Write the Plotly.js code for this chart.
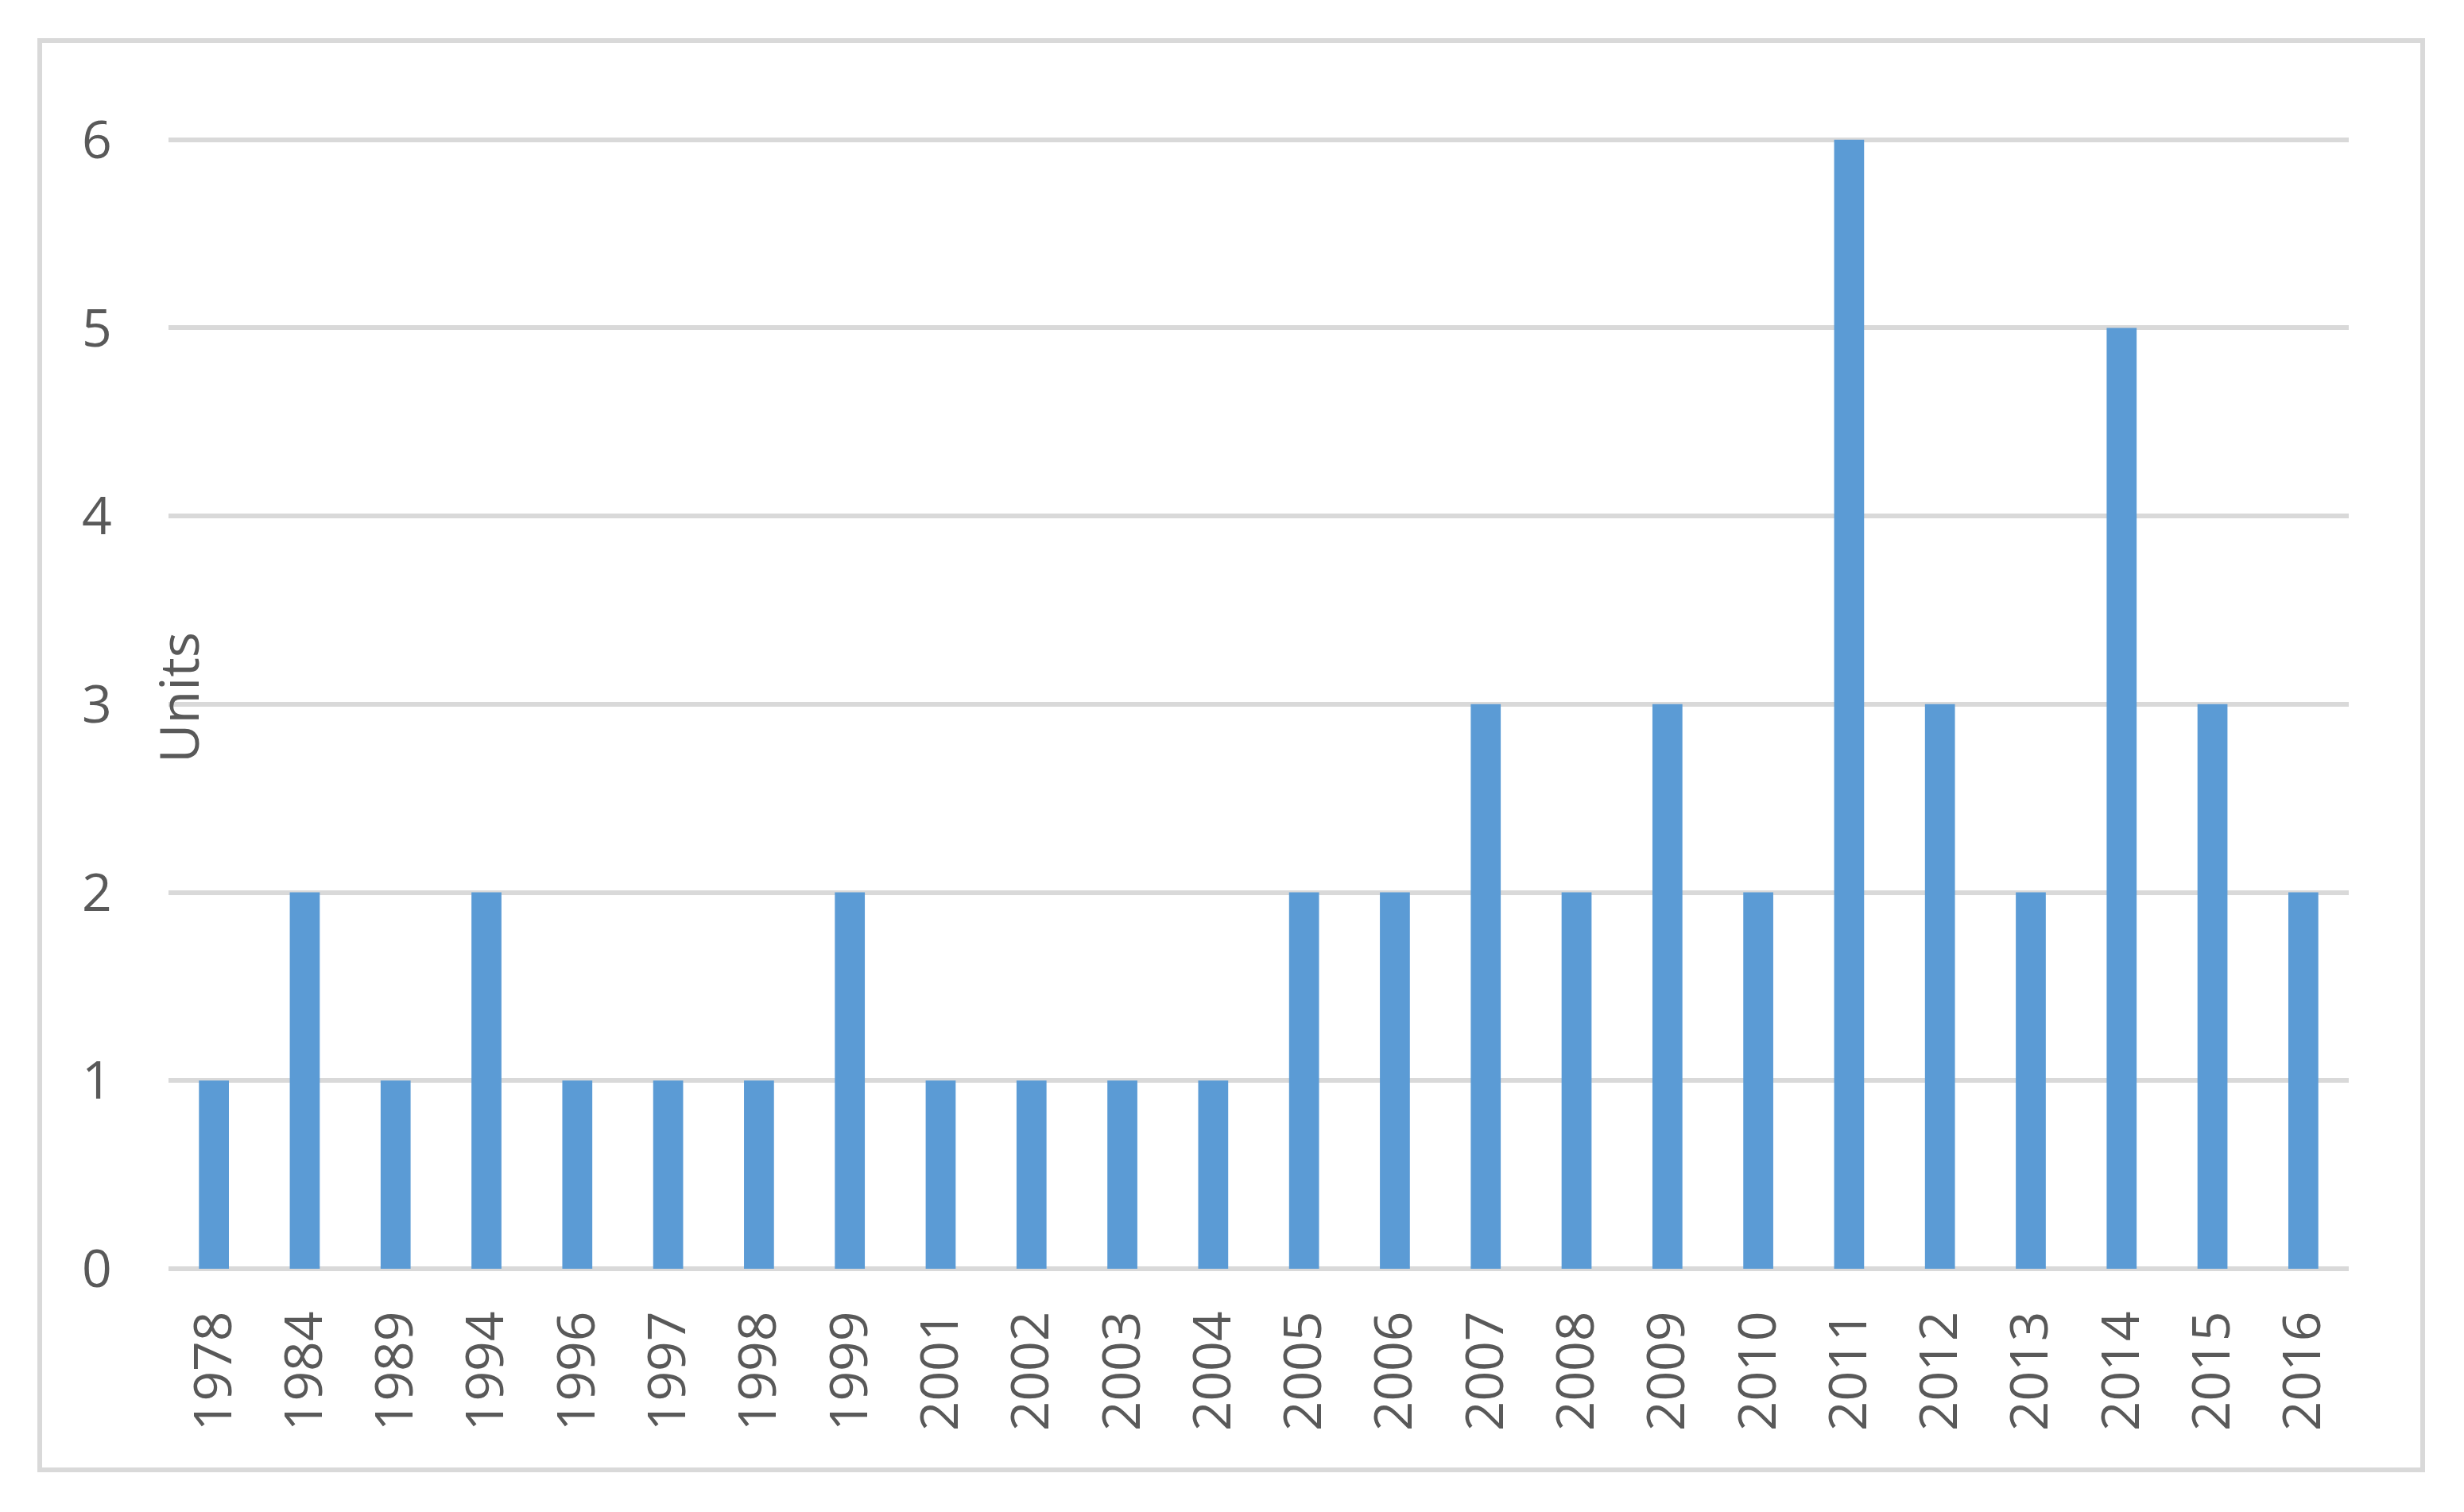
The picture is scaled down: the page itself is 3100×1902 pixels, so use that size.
<!DOCTYPE html>
<html>
<head>
<meta charset="utf-8">
<script src="https://cdn.plot.ly/plotly-3.0.1.min.js"></script>
<style>html,body{margin:0;padding:0;background:#fff;}#chart{width:3100px;height:1902px;}</style>
</head>
<body>
<div id="chart"></div>
<script>
const years = ["1978","1984","1989","1994","1996","1997","1998","1999","2001","2002","2003","2004","2005","2006","2007","2008","2009","2010","2011","2012","2013","2014","2015","2016"];
const units = [1,2,1,2,1,1,1,2,1,1,1,1,2,2,3,2,3,2,6,3,2,5,3,2];
const yTicks = [0,1,2,3,4,5,6];
const yTitle = "Units";

const grid = '#d9d9d9';
const txt = '#595959';
const fontFam = '"Open Sans", "Noto Sans", sans-serif';

const trace = {
  type: 'bar',
  x: years,
  y: units,
  marker: {color: '#5b9bd5', line: {width: 0}},
  hoverinfo: 'x+y'
};

// plot area: x 212..2955, y 171..1596
const L = 212, R = 2955, T = 171, B = 1596;
const W = R - L, H = B - T;

const layout = {
  width: 3100,
  height: 1902,
  margin: {l: L, r: 3100 - R, t: T, b: 1902 - B},
  paper_bgcolor: '#ffffff',
  plot_bgcolor: '#ffffff',
  showlegend: false,
  bargap: 0.67,
  font: {family: fontFam, color: txt, size: 66},
  xaxis: {
    type: 'category',
    tickangle: -90,
    ticks: 'outside',
    ticklen: 26,
    tickcolor: 'rgba(0,0,0,0)',
    showgrid: false,
    showline: false,
    zeroline: false,
    tickfont: {family: fontFam, size: 66, color: txt},
    fixedrange: true
  },
  yaxis: {
    range: [0, 6.02],
    tickvals: yTicks,
    ticktext: yTicks.map(String),
    ticks: 'outside',
    ticklen: 57,
    tickcolor: 'rgba(0,0,0,0)',
    showgrid: true,
    gridcolor: grid,
    gridwidth: 6,
    zeroline: true,
    zerolinecolor: grid,
    zerolinewidth: 6,
    showline: false,
    tickfont: {family: fontFam, size: 66, color: txt},
    fixedrange: true
  },
  annotations: [{
    text: yTitle,
    xref: 'paper', yref: 'paper',
    x: (223 - L) / W, y: (B - 878) / H,
    xanchor: 'center', yanchor: 'middle',
    textangle: -90,
    showarrow: false,
    font: {family: fontFam, size: 68, color: txt}
  }],
  shapes: [{
    type: 'rect',
    xref: 'paper', yref: 'paper',
    x0: (50 - L) / W, x1: (3048 - L) / W,
    y0: (B - 1849) / H, y1: (B - 51) / H,
    line: {color: grid, width: 6},
    fillcolor: 'rgba(0,0,0,0)',
    layer: 'below'
  }]
};

Plotly.newPlot('chart', [trace], layout, {displayModeBar: false, staticPlot: true});
</script>
</body>
</html>
